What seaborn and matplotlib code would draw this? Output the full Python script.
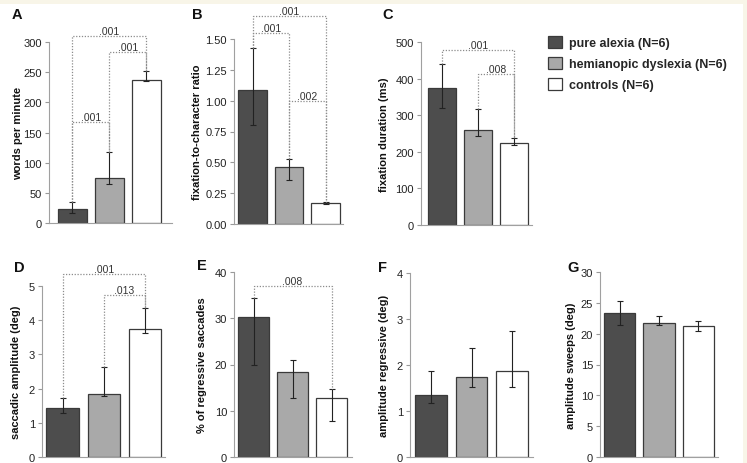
import pandas as pd
import seaborn as sns
import matplotlib.pyplot as plt
from matplotlib.patches import Patch, Rectangle

# groups and colours
groups = ["pure alexia (N=6)", "hemianopic dyslexia (N=6)", "controls (N=6)"]
bar_colors = ["#4d4d4d", "#a9a9a9", "#ffffff"]

panel_letters = ["A", "B", "C", "D", "E", "F", "G"]
ylabels = ["words per minute", "fixation-to-character ratio", "fixation duration (ms)",
           "saccadic amplitude (deg)", "% of regressive saccades",
           "amplitude regressive (deg)", "amplitude sweeps (deg)"]

# bar heights with lower / upper whisker ends
wpm = [24, 75, 237]
wpm_lo = [17, 65, 235]
wpm_hi = [34, 117, 252]
fix_ratio = [1.09, 0.46, 0.17]
fix_ratio_lo = [0.80, 0.36, 0.16]
fix_ratio_hi = [1.43, 0.53, 0.18]
fix_dur = [375, 260, 224]
fix_dur_lo = [320, 242, 218]
fix_dur_hi = [440, 318, 238]
sacc_amp = [1.42, 1.85, 3.75]
sacc_amp_lo = [1.28, 1.77, 3.62]
sacc_amp_hi = [1.72, 2.63, 4.35]
regr_pct = [30.3, 18.4, 12.7]
regr_pct_lo = [19.8, 12.7, 7.7]
regr_pct_hi = [34.3, 21.0, 14.6]
regr_amp = [1.35, 1.74, 1.86]
regr_amp_lo = [1.18, 1.53, 1.52]
regr_amp_hi = [1.88, 2.36, 2.75]
sweep_amp = [23.3, 21.7, 21.3]
sweep_amp_lo = [21.4, 21.4, 20.5]
sweep_amp_hi = [25.3, 22.8, 22.1]

y_max = [300, 1.5, 500, 5, 40, 4, 30]
y_step = [50, 0.25, 100, 1, 10, 1, 5]
tick_fmt = ["{:.0f}", "{:.2f}", "{:.0f}", "{:.0f}", "{:.0f}", "{:.0f}", "{:.0f}"]

# significance brackets: (group a, group b, bracket height, p value)
sig_A = [(0, 2, 310, ".001"), (1, 2, 283, ".001"), (0, 1, 167, ".001")]
sig_B = [(0, 2, 1.69, ".001"), (0, 1, 1.55, ".001"), (1, 2, 1.00, ".002")]
sig_C = [(0, 2, 478, ".001"), (1, 2, 413, ".008")]
sig_D = [(0, 2, 5.34, ".001"), (1, 2, 4.73, ".013")]
sig_E = [(0, 2, 37.0, ".008")]

panels = [
    (wpm, wpm_lo, wpm_hi, sig_A),
    (fix_ratio, fix_ratio_lo, fix_ratio_hi, sig_B),
    (fix_dur, fix_dur_lo, fix_dur_hi, sig_C),
    (sacc_amp, sacc_amp_lo, sacc_amp_hi, sig_D),
    (regr_pct, regr_pct_lo, regr_pct_hi, sig_E),
    (regr_amp, regr_amp_lo, regr_amp_hi, []),
    (sweep_amp, sweep_amp_lo, sweep_amp_hi, []),
]

# layout in pixels: axes x0, x1, top, bottom, xlim left, xlim right, ylabel centre x, letter x, letter top
W, H = 747, 464
layout = [
    (49, 172, 43, 224, -0.63, 2.7, 18, 12, 8),
    (234, 343, 40, 225, -0.51, 2.48, 197, 192, 8),
    (421, 532, 43, 226, -0.59, 2.5, 384, 382, 8),
    (42, 165, 287, 458, -0.5, 2.48, 16, 14, 261),
    (234, 352, 273, 458, -0.5, 2.52, 202, 197, 259),
    (410, 533, 274, 458, -0.52, 2.52, 384, 378, 261),
    (600, 718, 273, 458, -0.5, 2.5, 571, 567, 261),
]

sns.set_theme(style="white")
plt.rcParams["font.family"] = ["Liberation Sans", "DejaVu Sans"]

fig = plt.figure(figsize=(W / 100, H / 100), dpi=100)
fig.patch.set_facecolor("white")
# cream page edge at top and right
fig.patches.append(Rectangle((0, 1 - 5 / H), 1, 5 / H, transform=fig.transFigure,
                             facecolor="#f8f5e8", edgecolor="none", zorder=-10))
fig.patches.append(Rectangle((743 / W, 0), 4 / W, 1, transform=fig.transFigure,
                             facecolor="#f8f5e8", edgecolor="none", zorder=-10))

for i, (vals, lo, hi, sigs) in enumerate(panels):
    x0, x1, top, bot, xl, xr, ylab_x, let_x, let_y = layout[i]
    ax = fig.add_axes([x0 / W, 1 - bot / H, (x1 - x0) / W, (bot - top) / H])
    df = pd.DataFrame({"group": groups, "value": vals})
    sns.barplot(data=df, x="group", y="value", hue="group", order=groups, hue_order=groups,
                palette=bar_colors, width=0.79, edgecolor="#3a3a3a", linewidth=0.9,
                legend=False, ax=ax)
    err = [[v - l for v, l in zip(vals, lo)], [h - v for v, h in zip(vals, hi)]]
    ax.errorbar(range(3), vals, yerr=err, fmt="none", ecolor="#222222",
                elinewidth=0.8, capsize=2, capthick=0.8)

    # significance brackets
    for a, b, h, p in sigs:
        ax.plot([a, a, b, b], [hi[a], h, h, hi[b]], color="#8c8c8c", lw=0.9,
                ls=(0, (1, 1.3)), clip_on=False)
        ax.text((a + b) / 2, h, p, ha="center", va="bottom", fontsize=7.5,
                color="#333333", clip_on=False)

    ax.set_xlim(xl, xr)
    ax.set_ylim(0, y_max[i])
    n = int(round(y_max[i] / y_step[i]))
    ticks = [k * y_step[i] for k in range(n + 1)]
    ax.set_yticks(ticks)
    ax.set_yticklabels([tick_fmt[i].format(t) for t in ticks])
    ax.set_xticks([])
    ax.set_xlabel("")
    ax.set_ylabel(ylabels[i], fontsize=8, fontweight="bold", color="#111111")
    ax.yaxis.set_label_coords((ylab_x + 5 - x0) / (x1 - x0), 0.5)
    ax.tick_params(axis="y", length=3, width=0.8, color="#999999", labelsize=8,
                   labelcolor="#222222", pad=2, left=True)
    for s in ["top", "right"]:
        ax.spines[s].set_visible(False)
    for s in ["left", "bottom"]:
        ax.spines[s].set_color("#a0a0a0")
        ax.spines[s].set_linewidth(0.8)
    ax.set_facecolor("none")

    fig.text(let_x / W, 1 - let_y / H, panel_letters[i], fontsize=10.5, fontweight="bold",
             ha="left", va="top", color="#111111")

handles = [Patch(facecolor=c, edgecolor="#3a3a3a", linewidth=0.9) for c in bar_colors]
fig.legend(handles, groups, loc="upper left", bbox_to_anchor=(548 / W, 1 - 37 / H),
           frameon=False, handlelength=1.12, handleheight=1.12, labelspacing=0.6,
           handletextpad=0.56, borderpad=0, borderaxespad=0,
           prop={"weight": "bold", "size": 9})

fig.savefig("out.png", dpi=100)
